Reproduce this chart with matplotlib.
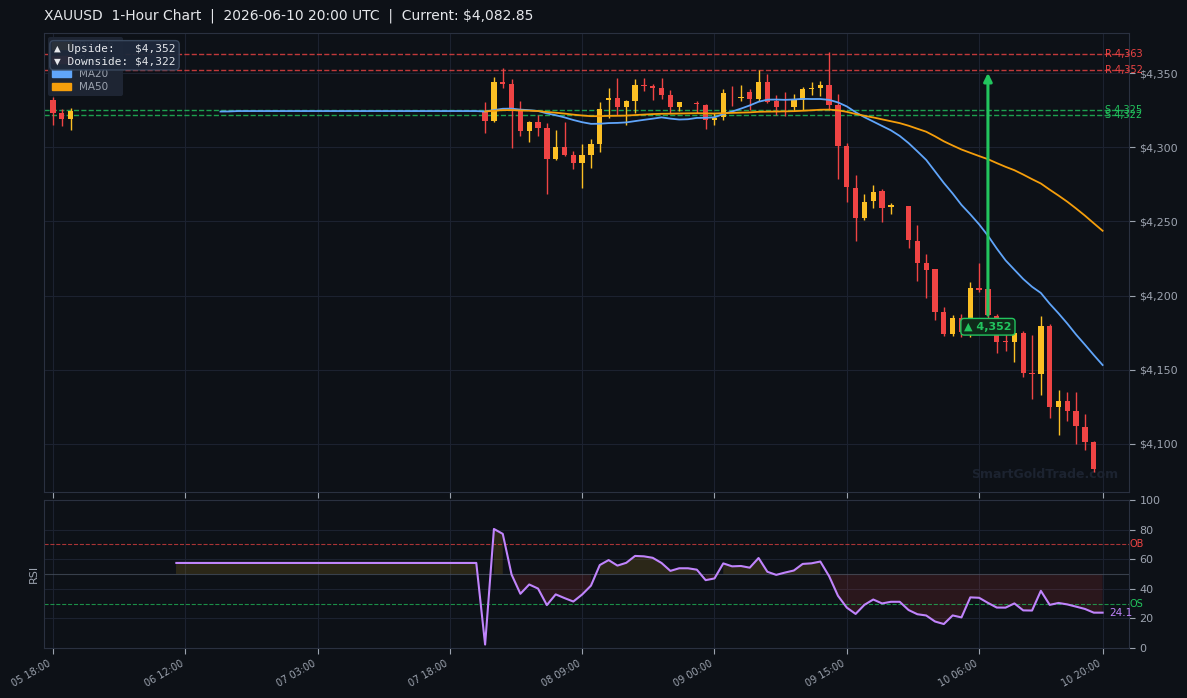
import matplotlib
matplotlib.use('Agg')
import matplotlib.pyplot as plt
import matplotlib.patches as mpatches
import numpy as np
import pandas as pd

# hourly bars (index 0..119)
# bars 3..48 and a few others are flat (no trades), open=high=low=close
opens = ([4331.8, 4323.3, 4319.0] + [4324.4] * 46 +
         [4324.4, 4317.6, 4343.9, 4342.6, 4325.0, 4311.1, 4317.0, 4313.0, 4292.1, 4300.1,
          4294.7, 4289.3, 4294.7, 4302.2, 4331.8, 4333.2, 4327.1, 4331.1, 4342.2, 4341.2,
          4339.9, 4335.2, 4327.1, 4330.2, 4330.0, 4328.4, 4318.3, 4320.6, 4334.0, 4333.5,
          4337.2, 4332.5, 4343.9, 4331.1, 4330.0, 4327.3, 4331.8, 4339.2, 4339.9, 4341.9,
          4328.4, 4300.8, 4272.5, 4252.3, 4263.8, 4270.5, 4259.5, 4261.0, 4260.4, 4236.8,
          4222.2, 4217.9, 4189.2, 4174.3, 4185.1, 4175.7, 4205.1, 4204.4, 4186.3, 4169.4,
          4169.0, 4174.8, 4148.1, 4147.4, 4179.5, 4125.2, 4129.0, 4122.2, 4111.5, 4101.3,
          4082.85])
highs = ([4334.0, 4325.7, 4326.4] + [4324.4] * 46 +
         [4330.5, 4347.3, 4353.4, 4346.0, 4331.1, 4317.6, 4321.7, 4316.3, 4311.6, 4317.0,
          4297.4, 4302.2, 4305.5, 4330.5, 4339.9, 4346.6, 4331.8, 4345.9, 4346.6, 4342.6,
          4346.6, 4338.5, 4330.7, 4330.2, 4331.1, 4329.1, 4322.8, 4339.2, 4341.2, 4341.9,
          4339.2, 4352.0, 4349.3, 4335.2, 4337.2, 4335.9, 4340.6, 4343.9, 4344.6, 4364.0,
          4335.9, 4302.6, 4281.3, 4268.5, 4274.5, 4271.8, 4262.4, 4261.0, 4260.4, 4247.6,
          4228.0, 4217.9, 4192.3, 4187.2, 4187.8, 4209.2, 4222.0, 4205.0, 4187.5, 4183.6,
          4174.8, 4176.1, 4173.5, 4186.3, 4180.9, 4136.4, 4135.0, 4135.0, 4120.2, 4102.0,
          4082.85])
lows = ([4315.0, 4314.0, 4311.6] + [4324.4] * 46 +
        [4309.8, 4317.0, 4339.9, 4299.7, 4307.5, 4303.5, 4307.5, 4268.5, 4291.4, 4294.0,
         4285.3, 4272.5, 4286.0, 4296.8, 4319.7, 4321.7, 4315.0, 4322.8, 4337.9, 4331.8,
         4332.5, 4322.8, 4324.4, 4330.2, 4322.8, 4312.3, 4315.0, 4318.3, 4327.8, 4331.1,
         4325.1, 4331.1, 4329.8, 4321.7, 4321.0, 4324.6, 4325.1, 4335.2, 4334.5, 4325.1,
         4278.6, 4263.1, 4236.5, 4250.9, 4259.0, 4249.6, 4255.0, 4261.0, 4232.3, 4210.1,
         4198.6, 4183.8, 4173.0, 4173.0, 4172.3, 4172.0, 4202.2, 4185.0, 4161.5, 4162.9,
         4155.3, 4145.4, 4130.6, 4132.8, 4117.8, 4106.3, 4115.7, 4100.2, 4096.2, 4081.4,
         4082.85])
closes = ([4323.3, 4319.0, 4324.4] + [4324.4] * 46 +
          [4317.6, 4343.9, 4342.6, 4326.2, 4311.1, 4317.0, 4313.2, 4292.1, 4300.1, 4294.7,
           4289.3, 4294.7, 4302.2, 4325.7, 4333.2, 4327.1, 4331.1, 4341.9, 4341.5, 4340.1,
           4335.2, 4327.1, 4330.2, 4330.2, 4328.9, 4318.3, 4319.9, 4336.5, 4333.6, 4334.0,
           4332.5, 4343.9, 4330.5, 4327.1, 4329.6, 4331.8, 4339.2, 4339.9, 4341.9, 4328.4,
           4300.8, 4273.2, 4252.3, 4263.1, 4269.8, 4259.0, 4261.0, 4261.0, 4237.5, 4222.2,
           4217.3, 4189.2, 4174.3, 4185.1, 4175.7, 4205.1, 4203.8, 4186.9, 4169.0, 4168.7,
           4174.8, 4148.1, 4147.4, 4179.5, 4125.2, 4129.0, 4122.5, 4112.4, 4101.6, 4082.85,
           4082.85])

tick_pos = [0, 15, 30, 45, 60, 75, 90, 105, 119]
tick_labels = ['05 18:00', '06 12:00', '07 03:00', '07 18:00', '08 09:00',
               '09 00:00', '09 15:00', '10 06:00', '10 20:00']

resistance = [4363, 4352]
support = [4325, 4322]
upside = 4352
downside = 4322
target_bar = 106
rsi_last_label = '24.1'

BG = '#0d1117'
GRID = '#1c2230'
TXT = '#9ca3af'
YELLOW = '#fbbf24'
RED = '#ef4444'
GREEN = '#22c55e'
BLUE = '#60a5fa'
ORANGE = '#f59e0b'
PURPLE = '#c084fc'

df = pd.DataFrame({'open': opens, 'high': highs, 'low': lows, 'close': closes})
x = np.arange(len(df))
df['ma20'] = df['close'].rolling(20).mean()
df['ma50'] = df['close'].rolling(50).mean()
delta = df['close'].diff()
gain = delta.clip(lower=0).ewm(com=13, min_periods=14).mean()
loss = (-delta.clip(upper=0)).ewm(com=13, min_periods=14).mean()
df['rsi'] = 100 - 100 / (1 + gain / loss)

fig = plt.figure(figsize=(11.87, 6.98), dpi=100, facecolor=BG)
ax = fig.add_axes([0.0371, 0.2951, 0.9141, 0.6576])
ax_rsi = fig.add_axes([0.0371, 0.0716, 0.9141, 0.2120], sharex=ax)

for a in (ax, ax_rsi):
    a.set_facecolor(BG)
    for s in a.spines.values():
        s.set_color('#2a3140')
    a.grid(True, color=GRID, lw=0.8)
    a.set_axisbelow(True)
    a.tick_params(colors=TXT, labelsize=8, length=4)
    a.yaxis.tick_right()

# candles
up = df['close'] >= df['open']
cols = np.where(up, YELLOW, RED)
moving = (df['high'] > df['low']).values
ax.vlines(x[moving], df['low'][moving], df['high'][moving], color=cols[moving], lw=1, zorder=2)
ax.bar(x[moving], (df['close'] - df['open']).abs()[moving],
       bottom=np.minimum(df['open'], df['close'])[moving],
       width=0.6, color=cols[moving], lw=0, zorder=3)

ax.plot(x, df['ma20'], color=BLUE, lw=1.3, zorder=4)
ax.plot(x, df['ma50'], color=ORANGE, lw=1.3, zorder=4)

for r in resistance:
    ax.axhline(r, color=RED, ls='--', lw=1, alpha=0.8, zorder=1)
    ax.text(119.3, r, f'R {r:,}', color=RED, fontsize=7, va='center', ha='left')
for s in support:
    ax.axhline(s, color=GREEN, ls='--', lw=1, alpha=0.8, zorder=1)
    ax.text(119.3, s, f'S {s:,}', color=GREEN, fontsize=7, va='center', ha='left')

ax.annotate(f'▲ {upside:,}', xy=(target_bar, upside), xytext=(target_bar, 4179),
            ha='center', va='center', color=GREEN, fontsize=8, fontweight='bold',
            bbox=dict(boxstyle='round,pad=0.3', fc='#0f2a1a', ec=GREEN, lw=1),
            arrowprops=dict(arrowstyle='-|>', color=GREEN, lw=2.2, mutation_scale=12),
            zorder=6)

ax.text(0.99, 0.024, 'SmartGoldTrade.com', transform=ax.transAxes, ha='right', va='bottom',
        fontsize=9, fontweight='bold', color='#1c2330', zorder=1)

ax.set_ylim(4067.6, 4377)
ax.set_xlim(-1, 122)
ax.set_yticks([4100, 4150, 4200, 4250, 4300, 4350])
ax.yaxis.set_major_formatter(plt.FuncFormatter(lambda v, p: f'${v:,.0f}'))
plt.setp(ax.get_xticklabels(), visible=False)

handles = [mpatches.Patch(color=YELLOW, label='Bullish'),
           mpatches.Patch(color=RED, label='Bearish'),
           mpatches.Patch(color=BLUE, label='MA20'),
           mpatches.Patch(color=ORANGE, label='MA50')]
leg = ax.legend(handles=handles, loc='upper left', fontsize=7.5, facecolor='#1e2533',
                edgecolor='none', labelcolor=TXT, framealpha=1, labelspacing=0.35,
                handlelength=1.8, borderaxespad=0.4)
leg.set_zorder(7)

ax.text(0.009, 0.975, f'▲ Upside:   ${upside:,}\n▼ Downside: ${downside:,}',
        transform=ax.transAxes, ha='left', va='top', family='DejaVu Sans Mono',
        fontsize=8, color='#e5e7eb', zorder=8,
        bbox=dict(boxstyle='round,pad=0.35', fc='#1e293b', ec='#3b4a60', alpha=0.95))

# RSI panel
rsi = df['rsi']
ax_rsi.plot(x, rsi, color=PURPLE, lw=1.5, zorder=3)
ax_rsi.fill_between(x, rsi, 50, where=(rsi >= 50).values, color=YELLOW, alpha=0.13, lw=0)
ax_rsi.fill_between(x, rsi, 50, where=(rsi < 50).values, color=RED, alpha=0.13, lw=0)
ax_rsi.axhline(70, color=RED, ls='--', lw=0.8, alpha=0.7)
ax_rsi.axhline(30, color=GREEN, ls='--', lw=0.8, alpha=0.7)
ax_rsi.axhline(50, color='#4b5563', lw=0.8, alpha=0.7)
ax_rsi.text(1.0, 70, 'OB', transform=ax_rsi.get_yaxis_transform(), color=RED,
            fontsize=7, va='center', ha='left')
ax_rsi.text(1.0, 30, 'OS', transform=ax_rsi.get_yaxis_transform(), color=GREEN,
            fontsize=7, va='center', ha='left')
ax_rsi.text(119.7, rsi.iloc[-1], rsi_last_label, color=PURPLE, fontsize=7.5,
            va='center', ha='left')
ax_rsi.set_ylim(0, 100)
ax_rsi.set_yticks([0, 20, 40, 60, 80, 100])
ax_rsi.set_ylabel('RSI', color=TXT, fontsize=8)
ax_rsi.set_xticks(tick_pos)
ax_rsi.set_xticklabels(tick_labels, rotation=30, ha='right', fontsize=7)

fig.text(0.037, 0.977, 'XAUUSD  1-Hour Chart  |  2026-06-10 20:00 UTC  |  Current: $4,082.85',
         color='#e5e7eb', fontsize=10, ha='left', va='center')

fig.savefig('out.png', dpi=100, facecolor=BG)
